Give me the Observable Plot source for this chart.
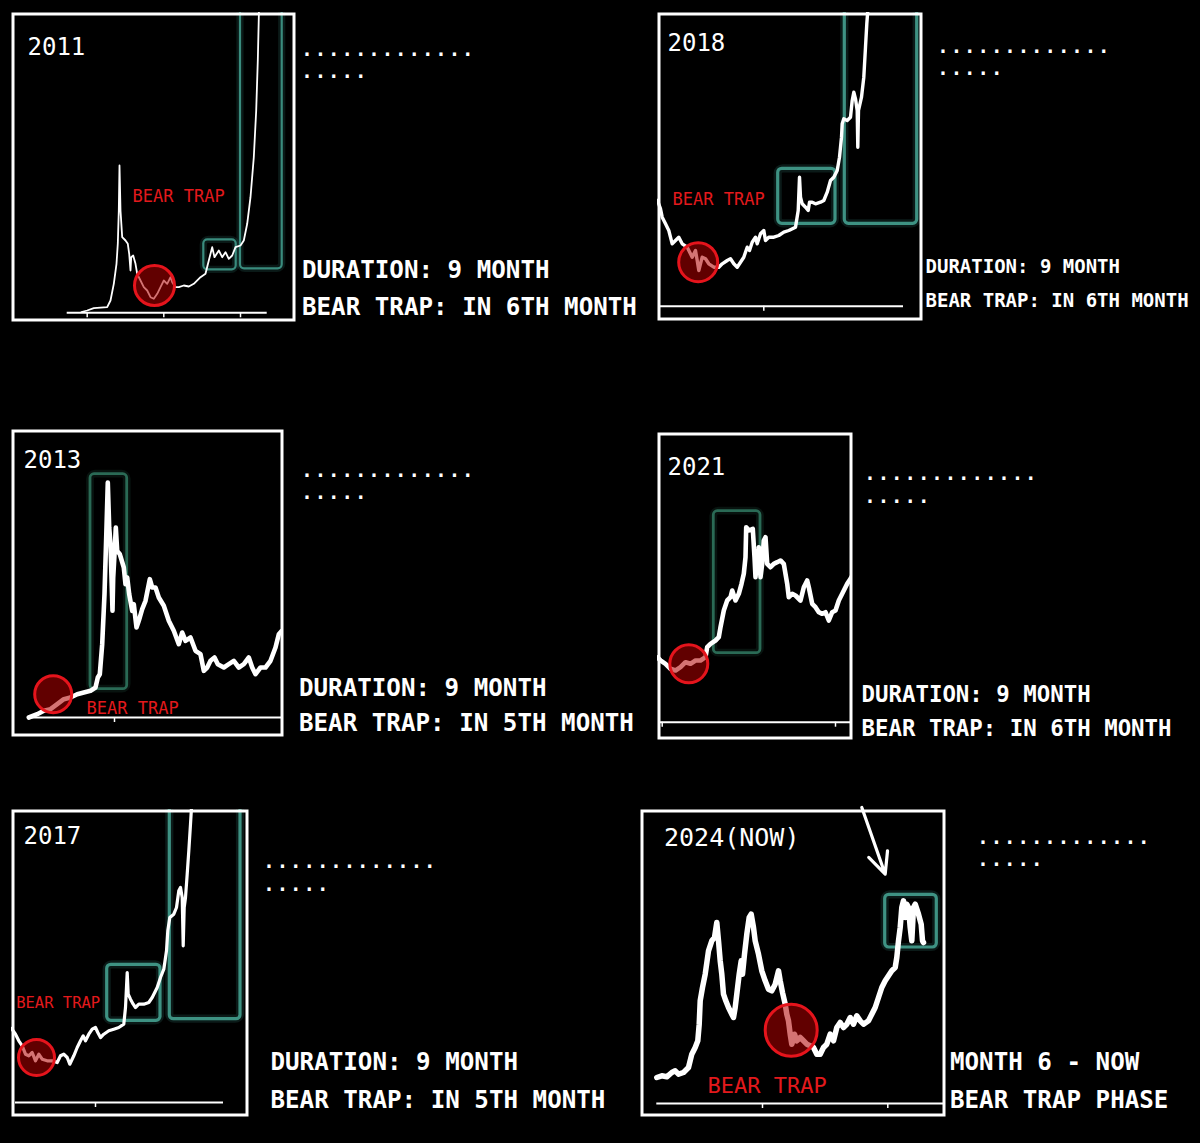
<!DOCTYPE html>
<html>
<head>
<meta charset="utf-8">
<script src="https://cdn.jsdelivr.net/npm/d3@7"></script>
<script src="https://cdn.jsdelivr.net/npm/@observablehq/plot@0.6"></script>
<style>
html,body{margin:0;padding:0;background:#000;}
#root{position:relative;width:1200px;height:1143px;background:#000;overflow:hidden;}
.panel{position:absolute;}
.txt{position:absolute;color:#fff;font-family:"DejaVu Sans Mono",monospace;font-weight:bold;white-space:pre;line-height:1;}
</style>
</head>
<body>
<div id="root"></div>
<script>
// ---------- DATA (time index, price units) ----------
const years = ["2011", "2018", "2013", "2021", "2017", "2024(NOW)"];

const price2011 = [[70,9.5],[75.7,11],[82.3,13.3],[95.7,14.3],[99,21],[102.3,37.7],[105,57.7],[106.3,77.7],[107.3,111],[108,156],[109,111],[110.7,84.3],[114,81],[116.3,77.7],[117.7,67.7],[119,51],[119.7,64.3],[121.7,66],[124,57.7],[125.7,47.7],[129,41],[132.3,34.3],[135.7,31],[139,24.3],[142.3,22.7],[145.7,27.7],[149,34.3],[152.3,41],[155.7,37.7],[159,44.3],[160.7,39.3],[164,34.3],[167.3,34.3],[172.3,36],[177.3,35],[182.3,37.7],[189,44.3],[194,47.7],[197.3,61],[200.7,74.3],[203,64.3],[207.3,71],[210.7,64.3],[214,69.3],[217.3,62.7],[220.7,66],[224,74.3],[229,76],[232.3,81],[235.7,97.7],[239,124.3],[242.3,164.3],[244.7,211],[246.3,261],[247.3,304.3],[248,330]];

const price2018 = [[0,120],[3,111.7],[4.7,103.3],[8,96.7],[11.3,90],[14.7,76.7],[18,80],[21.3,83.3],[24.7,76.7],[29.7,73.3],[34.7,63.3],[38,70],[39.7,60],[41.3,50],[44.7,63.3],[48,61.7],[51.3,56.7],[56.3,53.3],[61.3,53.3],[64.7,56.7],[69.7,60],[73,61.7],[76.3,56.7],[79.7,53.3],[83,58.3],[86.3,63.3],[89.7,73.3],[92,70],[94.7,78.3],[98,83.3],[99.7,76.7],[103,86.7],[106.3,90],[108,80],[111.3,83.3],[116.3,83.3],[121.3,85],[126.3,88.3],[131.3,90],[138,93.3],[140.7,110],[142,143.3],[143,123.3],[144.7,116.7],[148,113.3],[150.7,110],[152,118.3],[154.7,118.3],[158,116.7],[163,118.3],[166.3,120],[169.7,128.3],[173,140],[176.3,143.3],[179.7,150],[182,163.3],[184,183.3],[184.7,196.7],[186.3,201.7],[189.7,200],[193,203.3],[194.7,220],[196.3,228.3],[198,221.7],[199.7,210],[200.3,173.3],[201,210],[204,223.3],[206.3,243.3],[208,273.3],[209.3,296.7],[210.3,310],[211,330]];

const price2013 = [[17.3,19],[25.7,22.3],[32.3,25.7],[39,27.3],[45.7,32.3],[52.3,37.3],[59,39],[65.7,42.3],[72.3,44],[79,45.7],[84,49],[86.3,59],[88.3,62.3],[90.7,92.3],[93,142.3],[95,209],[96.3,254],[97.7,209],[99,192.3],[100,159],[101,125.7],[101.7,159],[103,182.3],[104.3,209],[105.7,185.7],[108.3,182.3],[112.3,169],[114,152.3],[115.7,159],[117.7,142.3],[120.7,125.7],[122.3,132.3],[125,109],[127.3,115.7],[130.7,127.3],[134,135.7],[138.3,157.3],[140.7,149],[144,149],[147.3,139],[152.3,130.7],[157.3,115.7],[162.3,105.7],[167.3,92.3],[170.7,104],[174,95.7],[179,99],[184,85.7],[189,82.3],[192.3,65.7],[195.7,69],[199,75.7],[203,79],[206.3,72.3],[212.3,69],[217.3,72.3],[222.3,75.7],[227.3,69],[232.3,72.3],[237.3,79],[240.7,69],[244,62.3],[249,69],[254,69],[259,75.7],[264,89],[267.3,102.3],[269.7,105],[274,108]];

const price2021 = [[0,82],[3,79],[8,75.7],[13,70.7],[18,69],[23,72.3],[28,77.3],[33,75.7],[38,79],[43,79],[48,82.3],[49.7,92.3],[53,95.7],[58,99],[61.3,102.3],[63,112.3],[66.3,129],[69.7,139],[73,142.3],[74.7,149],[78,139],[81.3,145.7],[84,155.7],[86.3,165.7],[88,182.3],[88.7,212.3],[91.3,209],[95.3,210.7],[97,182.3],[98,162.3],[99.7,182.3],[101.3,192.3],[103,162.3],[104.7,175.7],[106.3,199],[108,202.3],[109.7,175.7],[113,172.3],[116.3,175.7],[119.7,177.3],[123,179],[126.3,175.7],[129.7,155.7],[131.3,142.3],[134.7,145.7],[138,144],[143,139],[146.3,152.3],[149.7,159],[151.3,152.3],[154.7,135.7],[158,132.3],[161.3,127.3],[164.7,125.7],[168,127.3],[171.3,119],[174.7,127.3],[178,129],[181.3,139],[184.7,145.7],[189.7,155.7],[193,160.7],[196,166]];

const price2017 = [[0,88],[4,82.3],[7.3,75.7],[10.7,70.7],[14,62.3],[17.3,60.7],[20.7,64],[24,55.7],[27.3,62.3],[30.7,57.3],[35.7,55.7],[40.7,55.7],[45.7,54],[49,60.7],[52.3,62.3],[55.7,59],[58.3,52.3],[62.3,60.7],[65.7,69],[69,75.7],[71.7,80.7],[74,75.7],[77.3,82.3],[80.7,87.3],[84,89],[86.3,84],[89,79],[92.3,82.3],[97.3,85.7],[102.3,87.3],[107.3,89],[112.3,92.3],[114,109],[115.7,144],[116.7,122.3],[119,117.3],[121.7,112.3],[124,109],[127.3,112.3],[132.3,112.3],[137.3,114],[140.7,119],[145.7,129],[149,139],[152.3,147.3],[155,165.7],[156.3,185.7],[158.3,199],[162.3,202.3],[165,209],[167.3,225.7],[169,229],[170.7,219],[171.7,170.7],[172.7,209],[174,219],[175.7,242.3],[177.3,265.7],[179,292.3],[180,309],[181,330]];

const price2024 = [[16.3,39],[21.3,40.7],[26.3,39.7],[31.3,44],[34.7,45.7],[38,42.3],[43,44],[48,49],[51.3,62.3],[54.7,69],[57.3,75.7],[58.7,92.3],[59.7,115.7],[62,129],[64.7,142.3],[68,165.7],[71.3,175.7],[74,179],[76.3,194],[78,175.7],[79.7,155.7],[81.3,142.3],[83,122.3],[85.3,115.7],[88,109],[91.3,102.3],[93,99],[94.7,109],[96.3,122.3],[98.7,142.3],[100.7,155.7],[102,142.3],[104,162.3],[106.3,182.3],[108.7,199],[110.7,202.3],[113,189],[114.7,175.7],[118,162.3],[121.3,145.7],[124.7,135.7],[128,127.3],[131.3,125.7],[134.7,132.3],[138,145.7],[139.7,135.7],[142,124],[144.7,112.3],[146.3,102.3],[148,95.7],[149.7,82.3],[151.3,72.3],[154,82.3],[156.3,75.7],[159.7,79],[163,75.7],[166.3,72.3],[169.7,70.7],[173,69],[176.3,62.3],[179.7,62.3],[183,69],[186.3,72.3],[189.7,82.3],[193,75.7],[196.3,89],[199.7,94],[203,89],[206.3,92.3],[209.7,99],[213,92.3],[216.3,100.7],[219.7,95.7],[223,92.3],[228,95.7],[231.3,102.3],[234.7,109],[238,119],[241.3,129],[244.7,135.7],[248,140.7],[251.3,145.7],[254.7,149],[256.3,159],[258,175.7],[259.7,189],[261.3,209],[263,215.7],[264.7,199],[266.3,212.3],[268,209],[269.7,189],[271.3,175.7],[273,209],[274.7,212.3],[278,202.3],[280.7,192.3],[282,175.7],[283,174]];

// bear-trap zone centres [time, price]
const trap2011 = [143, 36];
const trap2018 = [40.7, 58.3];
const trap2013 = [41.7, 42.3];
const trap2021 = [31.3, 75.7];
const trap2017 = [25, 59];
const trap2024 = [150.7, 86.3];

// breakout zones [t1, t2, p1, p2]
const zones2011 = [[192.3, 224.7, 51.7, 81.7], [229, 270.7, 52.7, 400]];
const zones2018 = [[120.7, 178, 96.7, 151.7], [187.3, 259.7, 96.7, 400]];
const zones2013 = [[79, 115.7, 47.3, 262.3]];
const zones2021 = [[56.3, 103, 86.3, 228.3]];
const zones2017 = [[95.7, 149, 95.7, 151.7], [158.3, 229, 97.3, 400]];
const zones2024 = [[244.7, 296.3, 169, 221.7]];

// axis remnants: [baseline price, from t, to t], tick times
const axis2011 = [8.7, 55.7, 255.7]; const ticks2011 = [75.7, 152.3, 229];
const axis2018 = [14.3, 3, 246];     const ticks2018 = [106.3];
const axis2013 = [19, 17, 272];      const ticks2013 = [103];
const axis2021 = [17.3, 3, 195];     const ticks2021 = [4.7, 178];
const axis2017 = [14, 4, 212];       const ticks2017 = [84];
const axis2024 = [13, 16.3, 305];    const ticks2024 = [122, 247.3];

// "now" pointer in 2024 [t1, p1, t2, p2]
const pointer2024 = [221.3, 309, 244.7, 242.3];

const line1 = ["DURATION: 9 MONTH", "DURATION: 9 MONTH", "DURATION: 9 MONTH", "DURATION: 9 MONTH", "DURATION: 9 MONTH", "MONTH 6 - NOW"];
const line2 = ["BEAR TRAP: IN 6TH MONTH", "BEAR TRAP: IN 6TH MONTH", "BEAR TRAP: IN 5TH MONTH", "BEAR TRAP: IN 6TH MONTH", "BEAR TRAP: IN 5TH MONTH", "BEAR TRAP PHASE"];
const trapLabel = "BEAR TRAP";
const dotsLong = ".............";
const dotsShort = ".....";

// ---------- LAYOUT ----------
const layout = [
  {series: price2011, trap: trap2011, zones: zones2011, axis: axis2011, ticks: ticks2011,
   left: 11, top: 12, w: 284, h: 309, lw: 1.8, r: 20, zoneColor: "#3a8c7e", zoneW: 2.2,
   yearPos: [16, 274], yearFs: 24, trapPos: [121, 125], trapFs: 17,
   textX: 302, b1: 278.5, b2: 315.5, fs: 24.2, dotX: 301.3, d1: 55.8, d2: 78.5},
  {series: price2018, trap: trap2018, zones: zones2018, axis: axis2018, ticks: ticks2018,
   left: 657, top: 12, w: 265, h: 308, lw: 3.4, r: 19.5, zoneColor: "#3e9283", zoneW: 3.2,
   yearPos: [10, 277.5], yearFs: 24, trapPos: [15, 121], trapFs: 17,
   textX: 925.5, b1: 273.5, b2: 307.5, fs: 19, dotX: 937.3, d1: 52.8, d2: 75.2},
  {series: price2013, trap: trap2013, zones: zones2013, axis: axis2013, ticks: ticks2013,
   left: 11, top: 429, w: 272, h: 307, lw: 4.6, r: 18.5, zoneColor: "#2a6a55", zoneW: 2.8,
   yearPos: [12, 276], yearFs: 24, trapPos: [75, 28.3], trapFs: 17,
   textX: 299, b1: 696.5, b2: 731, fs: 24.2, dotX: 301.3, d1: 476.8, d2: 499.5},
  {series: price2021, trap: trap2021, zones: zones2021, axis: axis2021, ticks: ticks2021,
   left: 657, top: 432, w: 195, h: 307, lw: 4.6, r: 19, zoneColor: "#2a6a55", zoneW: 2.8,
   yearPos: [10, 272], yearFs: 24, trapPos: null, trapFs: 17,
   textX: 861.5, b1: 701.5, b2: 736, fs: 22.4, dotX: 864.3, d1: 480.2, d2: 502.8},
  {series: price2017, trap: trap2017, zones: zones2017, axis: axis2017, ticks: ticks2017,
   left: 11, top: 809, w: 237, h: 307, lw: 3.2, r: 18, zoneColor: "#3e9283", zoneW: 3.2,
   yearPos: [12, 280.5], yearFs: 24, trapPos: [4.7, 113.3], trapFs: 15.5,
   textX: 270.5, b1: 1070, b2: 1108.5, fs: 24.2, dotX: 263.3, d1: 867.8, d2: 890.8},
  {series: price2024, trap: trap2024, zones: zones2024, axis: axis2024, ticks: ticks2024,
   left: 640, top: 809, w: 305, h: 307, lw: 5.5, r: 26, zoneColor: "#3e9283", zoneW: 3.2,
   yearPos: [23.5, 278.5], yearFs: 25, trapPos: [67, 30.7], trapFs: 22,
   textX: 950, b1: 1070, b2: 1108.5, fs: 24.2, dotX: 977.3, d1: 844.2, d2: 866.2,
   pointer: pointer2024}
];

const root = document.getElementById("root");
const MONO = "DejaVu Sans Mono, monospace";
const DOT_FS = 19, DOT_STEP = 13.4;

function addText(str, x, baseline, fs, spacing) {
  const d = document.createElement("div");
  d.className = "txt";
  d.textContent = str;
  d.style.left = x + "px";
  d.style.top = (baseline - 0.846 * fs) + "px";
  d.style.fontSize = fs + "px";
  if (spacing) d.style.letterSpacing = spacing + "px";
  root.appendChild(d);
}

layout.forEach((p, i) => {
  const data = p.series.map(([t, v]) => ({t, v}));
  const zones = p.zones.map(([t1, t2, p1, p2]) => ({t1, t2, p1, p2}));
  const [base, from, to] = p.axis;
  const marks = [
    Plot.ruleY([base], {x1: from, x2: to, stroke: "white", strokeWidth: 2}),
    Plot.ruleX(p.ticks, {x: d => d, y1: base, y2: base - 5, stroke: "white", strokeWidth: 1.5}),
    Plot.rect(zones, {x1: "t1", x2: "t2", y1: "p1", y2: "p2", fill: "none", stroke: p.zoneColor, strokeWidth: p.zoneW + 5, strokeOpacity: 0.18, rx: 5, clip: "frame"}),
    Plot.rect(zones, {x1: "t1", x2: "t2", y1: "p1", y2: "p2", fill: "none", stroke: p.zoneColor, strokeWidth: p.zoneW, rx: 4, clip: "frame"}),
    Plot.line(data, {x: "t", y: "v", stroke: "white", strokeWidth: p.lw, strokeLinejoin: "round", strokeLinecap: "round", clip: "frame"}),
    Plot.dot([p.trap], {x: d => d[0], y: d => d[1], r: p.r, fill: "#b00000", fillOpacity: 0.55, stroke: "#e5141c", strokeWidth: 3}),
    Plot.text([years[i]], {x: p.yearPos[0], y: p.yearPos[1], text: d => d, textAnchor: "start", lineAnchor: "middle", fill: "white", fontSize: p.yearFs, fontFamily: MONO}),
  ];
  if (p.trapPos) {
    marks.push(Plot.text([trapLabel], {x: p.trapPos[0], y: p.trapPos[1], text: d => d, textAnchor: "start", lineAnchor: "middle", fill: "#e3191c", fontSize: p.trapFs, fontFamily: MONO}));
  }
  if (p.pointer) {
    const [x1, y1, x2, y2] = p.pointer;
    marks.push(Plot.arrow([{x1, y1, x2, y2}], {x1: "x1", y1: "y1", x2: "x2", y2: "y2", stroke: "white", strokeWidth: 3.2, headLength: 22, headAngle: 50}));
  }
  marks.push(Plot.frame({stroke: "white", strokeWidth: 3, inset: 1.5}));

  const chart = Plot.plot({
    width: p.w, height: p.h,
    margin: 0,
    x: {domain: [0, p.w], range: [0, p.w], axis: null},
    y: {domain: [0, p.h], range: [p.h, 0], axis: null},
    style: {background: "transparent", overflow: "visible"},
    marks
  });
  const wrap = document.createElement("div");
  wrap.className = "panel";
  wrap.style.left = p.left + "px";
  wrap.style.top = p.top + "px";
  wrap.appendChild(chart);
  root.appendChild(wrap);

  addText(line1[i], p.textX, p.b1, p.fs);
  addText(line2[i], p.textX, p.b2, p.fs);
  const ls = DOT_STEP - 0.602 * DOT_FS;
  addText(dotsLong, p.dotX, p.d1, DOT_FS, ls);
  addText(dotsShort, p.dotX, p.d2, DOT_FS, ls);
});
</script>
</body>
</html>
